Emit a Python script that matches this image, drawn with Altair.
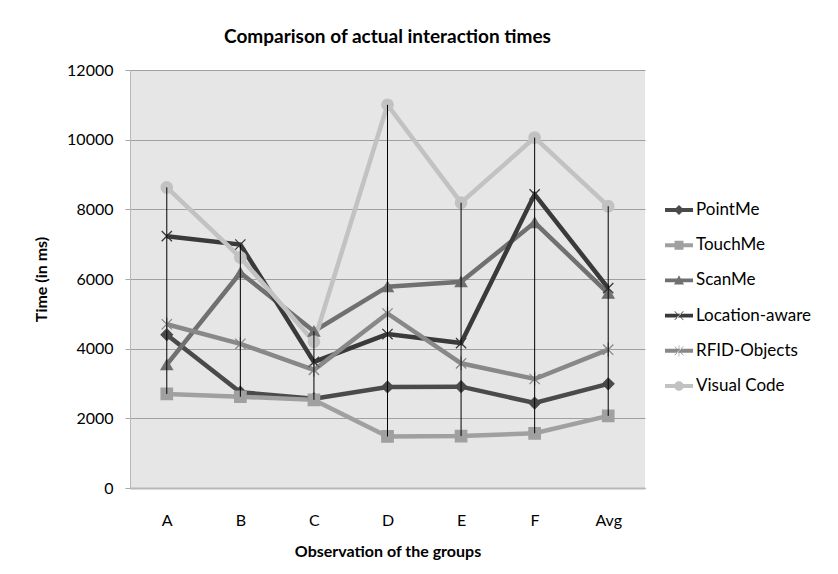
import altair as alt
import pandas as pd

categories = ["A", "B", "C", "D", "E", "F", "Avg"]
series_names = ["PointMe", "TouchMe", "ScanMe", "Location-aware", "RFID-Objects", "Visual Code"]
point_me = [4400, 2750, 2560, 2900, 2910, 2440, 2990]
touch_me = [2700, 2620, 2530, 1480, 1490, 1570, 2070]
scan_me = [3540, 6180, 4500, 5780, 5920, 7620, 5590]
location_aware = [7230, 6990, 3620, 4420, 4160, 8430, 5740]
rfid_objects = [4700, 4140, 3390, 5010, 3580, 3130, 3970]
visual_code = [8630, 6620, 4200, 11000, 8190, 10060, 8090]

colors = ["#4a4a4a", "#a0a0a0", "#707070", "#3a3a3a", "#888888", "#c2c2c2"]
marker_paths = [
    "diamond",
    "square",
    "triangle-up",
    "M-0.9,-0.9L0.9,0.9M-0.9,0.9L0.9,-0.9",
    "M-0.9,-0.9L0.9,0.9M-0.9,0.9L0.9,-0.9M0,-1.2L0,1.2",
    "circle",
]
L = "M-1,-0.14H1V0.14H-1Z"
legend_paths = [
    L + "M0,-0.36L0.36,0L0,0.36L-0.36,0Z",
    L + "M-0.32,-0.32H0.32V0.32H-0.32Z",
    L + "M0,-0.36L0.36,0.3H-0.36Z",
    L + "M-0.33,-0.3L-0.3,-0.33L0.33,0.3L0.3,0.33ZM0.33,-0.3L0.3,-0.33L-0.33,0.3L-0.3,0.33Z",
    L + "M-0.33,-0.3L-0.3,-0.33L0.33,0.3L0.3,0.33ZM0.33,-0.3L0.3,-0.33L-0.33,0.3L-0.3,0.33ZM-0.02,-0.4H0.02V0.4H-0.02Z",
    L + "M0.34,0A0.34,0.34 0 1,1 -0.34,0A0.34,0.34 0 1,1 0.34,0Z",
]

all_values = [point_me, touch_me, scan_me, location_aware, rfid_objects, visual_code]
rows = []
for name, vals in zip(series_names, all_values):
    for c, v in zip(categories, vals):
        rows.append({"cat": c, "series": name, "value": v})
df = pd.DataFrame(rows)

FONT = "Lato"

x_enc = alt.X(
    "cat:N",
    sort=categories,
    scale=alt.Scale(type="point", padding=0.5),
    axis=alt.Axis(
        title="Observation of the groups",
        labelAngle=0,
        ticks=False,
        labelPadding=24,
        titlePadding=15,
        domainColor="#b8b8b8",
        domainWidth=2,
        grid=False,
        labelFontSize=16,
        titleFontSize=16,
    ),
)
y_enc = alt.Y(
    "value:Q",
    scale=alt.Scale(domain=[0, 12000], nice=False),
    axis=alt.Axis(
        title="Time (in ms)",
        values=[0, 2000, 4000, 6000, 8000, 10000, 12000],
        tickSize=5,
        tickColor="#a8a8a8",
        domainColor="#b8b8b8",
        labelPadding=12,
        titlePadding=17,
        gridColor="#a0a0a0",
        gridWidth=1.2,
        labelFontSize=16,
        titleFontSize=16,
        format="d",
    ),
)

base = alt.Chart(df)

lines = base.mark_line(strokeWidth=4.5).encode(
    x=x_enc,
    y=y_enc,
    color=alt.Color("series:N", scale=alt.Scale(domain=series_names, range=colors), legend=None),
    detail="series:N",
)

points = base.mark_point(filled=True, strokeWidth=1.3, size=130, opacity=1).encode(
    x=x_enc,
    y=y_enc,
    color=alt.Color("series:N", scale=alt.Scale(domain=series_names, range=colors), legend=None),
    stroke=alt.Stroke("series:N", scale=alt.Scale(domain=series_names, range=colors), legend=None),
    shape=alt.Shape("series:N", scale=alt.Scale(domain=series_names, range=marker_paths), legend=None),
)

hilo = base.mark_rule(color="black", strokeWidth=1).encode(
    x=x_enc,
    y=alt.Y("min(value):Q"),
    y2=alt.Y2("max(value):Q"),
)

legend_props = dict(
    title=None,
    orient="none",
    legendX=535,
    legendY=126,
    symbolSize=784,
    labelFontSize=17,
    labelFont=FONT,
    labelColor="#000000",
    labelOffset=3,
    rowPadding=13.2,
    symbolStrokeWidth=0,
    symbolOpacity=1,
)

legend_layer = base.transform_filter("false").mark_point(filled=True, opacity=1).encode(
    x=x_enc,
    y=y_enc,
    color=alt.Color(
        "series:N",
        scale=alt.Scale(domain=series_names, range=colors),
        legend=alt.Legend(**legend_props),
    ),
    shape=alt.Shape(
        "series:N",
        scale=alt.Scale(domain=series_names, range=legend_paths),
        legend=alt.Legend(**legend_props),
    ),
)

chart = (
    alt.layer(lines, points, hilo, legend_layer)
    .resolve_scale(shape="independent", color="independent")
    .properties(
        width=515,
        height=418,
        title=alt.TitleParams(
            "Comparison of actual interaction times",
            fontSize=19,
            font=FONT,
            fontWeight="bold",
            anchor="middle",
            frame="group",
            offset=15,
            color="#000000",
        ),
        autosize=alt.AutoSizeParams(type="none"),
        padding={"left": 122, "top": 62, "right": 185, "bottom": 78},
    )
    .configure_view(fill="#e6e6e6", stroke=None)
    .configure_axis(
        labelFont=FONT,
        titleFont=FONT,
        labelColor="#000000",
        titleColor="#000000",
        titleFontWeight="bold",
    )
)

chart.save("out.html", embed_options={"renderer": "svg", "actions": False})
